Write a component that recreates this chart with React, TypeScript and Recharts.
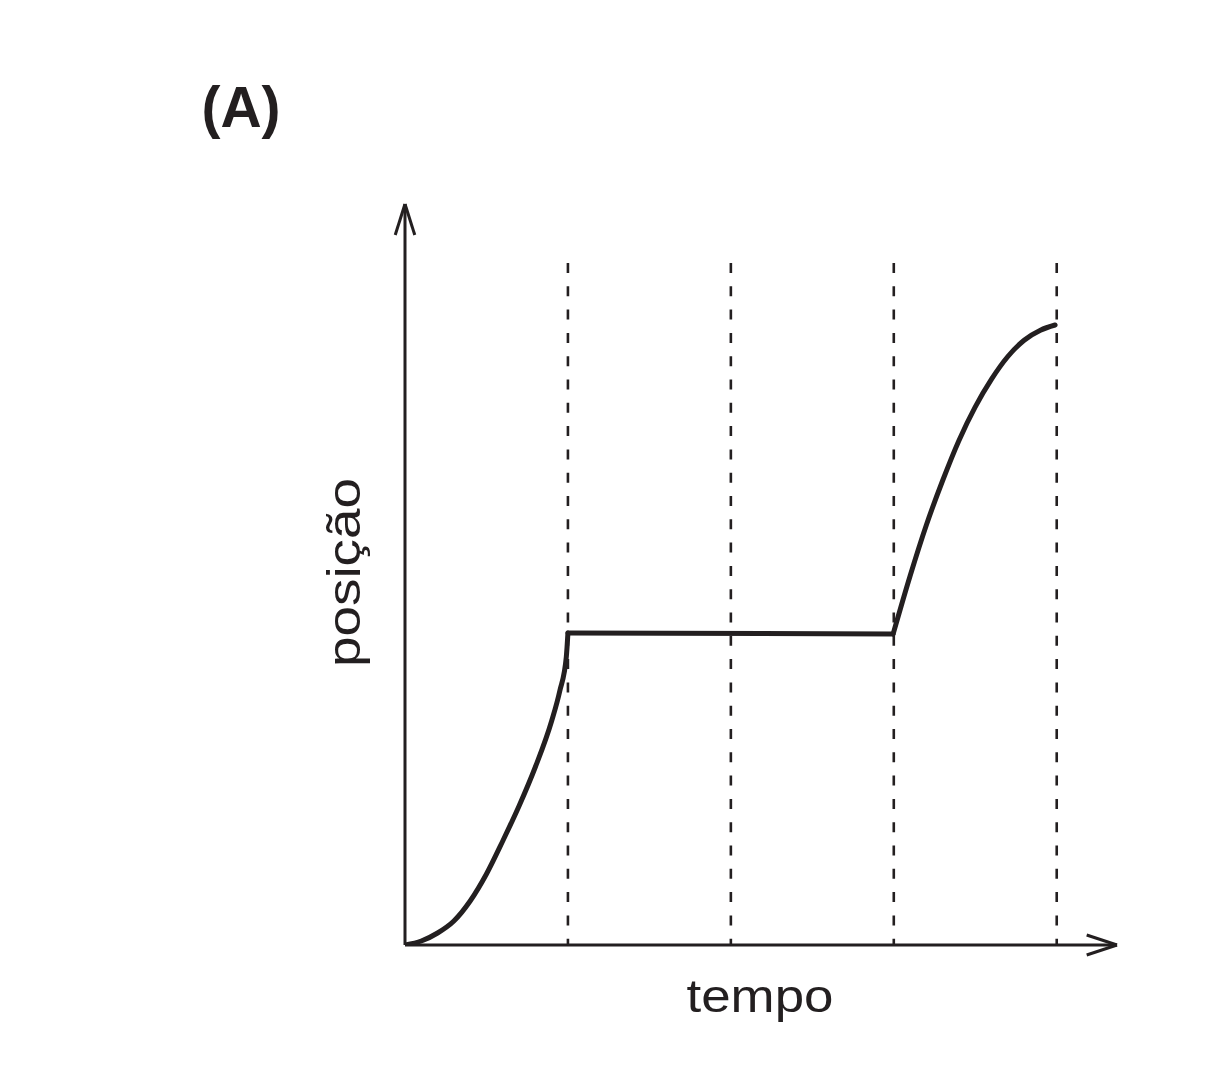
import { Line, LineChart, ReferenceLine, XAxis, YAxis } from "recharts";

// time axis: one unit per interval between the dashed markers
const markTimes = [1, 2, 3, 4];
const T_END = 4.37;
const X_END = 7.41;
const MARK_TOP = 6.82;

// phase 1: speeding up from rest
const rampTimes = [0, 0.1, 0.2, 0.3, 0.4, 0.5, 0.6, 0.7, 0.8, 0.9, 0.95, 0.99, 1.0];
const rampPos = [0, 0.04, 0.12, 0.24, 0.44, 0.71, 1.04, 1.39, 1.78, 2.24, 2.54, 2.88, 3.12];

// phase 2: at rest
const restTimes = [1.0, 2.996];
const restPos = [3.12, 3.11];

// phase 3: moving again, slowing down
const finalTimes = [2.996, 3.1, 3.2, 3.3, 3.4, 3.5, 3.6, 3.7, 3.8, 3.9, 3.99];
const finalPos = [3.11, 3.69, 4.2, 4.645, 5.046, 5.382, 5.659, 5.885, 6.048, 6.148, 6.2];

const toPoints = (ts: number[], xs: number[]) => ts.map((t, i) => ({ t, x: xs[i] }));

const INK = "#231f20";
const FONT = '"Liberation Sans", Arial, Helvetica, sans-serif';

export default function App() {
  const ramp = toPoints(rampTimes, rampPos);
  const rest = toPoints(restTimes, restPos);
  const final = toPoints(finalTimes, finalPos);

  const curve = {
    dataKey: "x",
    stroke: INK,
    strokeWidth: 5,
    dot: false,
    activeDot: false,
    type: "monotoneX" as const,
    isAnimationActive: false,
    strokeLinecap: "round" as const,
    strokeLinejoin: "round" as const,
  };

  return (
    <div style={{ position: "relative", width: 1196, height: 1058, background: "#fff" }}>
      <LineChart width={1196} height={1058} margin={{ top: 196, right: 87, bottom: 121, left: 397 }}>
        <XAxis type="number" dataKey="t" domain={[0, T_END]} hide allowDataOverflow />
        <YAxis type="number" dataKey="x" domain={[0, X_END]} hide allowDataOverflow />
        {markTimes.map((t) => (
          <ReferenceLine
            key={t}
            segment={[{ x: t, y: MARK_TOP }, { x: t, y: 0 }]}
            stroke={INK}
            strokeWidth={2.6}
            strokeDasharray="10 13.3"
            ifOverflow="visible"
          />
        ))}
        {/* axes with arrow heads */}
        <ReferenceLine segment={[{ x: 0, y: 0 }, { x: T_END, y: 0 }]} stroke={INK} strokeWidth={3} ifOverflow="visible" />
        <ReferenceLine segment={[{ x: 0, y: 0 }, { x: 0, y: X_END }]} stroke={INK} strokeWidth={3} ifOverflow="visible" />
        <ReferenceLine segment={[{ x: T_END - 0.186, y: 0.1 }, { x: T_END, y: 0 }]} stroke={INK} strokeWidth={3} ifOverflow="visible" />
        <ReferenceLine segment={[{ x: T_END - 0.186, y: -0.1 }, { x: T_END, y: 0 }]} stroke={INK} strokeWidth={3} ifOverflow="visible" />
        <ReferenceLine segment={[{ x: -0.06, y: X_END - 0.31 }, { x: 0, y: X_END }]} stroke={INK} strokeWidth={3} ifOverflow="visible" />
        <ReferenceLine segment={[{ x: 0.06, y: X_END - 0.31 }, { x: 0, y: X_END }]} stroke={INK} strokeWidth={3} ifOverflow="visible" />
        <Line data={ramp} {...curve} />
        <Line data={rest} {...curve} type="linear" />
        <Line data={final} {...curve} />
      </LineChart>
      <svg
        width={1196}
        height={1058}
        style={{ position: "absolute", left: 0, top: 0, pointerEvents: "none" }}
      >
        <text x={233} y={119} textAnchor="middle" fontFamily={FONT} fontWeight="bold" fontSize={57} fill={INK}>
          (A)
        </text>
        <text
          x={752}
          y={1004}
          textAnchor="middle"
          fontFamily={FONT}
          fontSize={46}
          fill={INK}
          textLength={147}
          lengthAdjust="spacingAndGlyphs"
        >
          tempo
        </text>
        <text
          x={352}
          y={564.5}
          textAnchor="middle"
          fontFamily={FONT}
          fontSize={46}
          fill={INK}
          textLength={189}
          lengthAdjust="spacingAndGlyphs"
          transform="rotate(-90 352 564.5)"
        >
          posição
        </text>
      </svg>
    </div>
  );
}
